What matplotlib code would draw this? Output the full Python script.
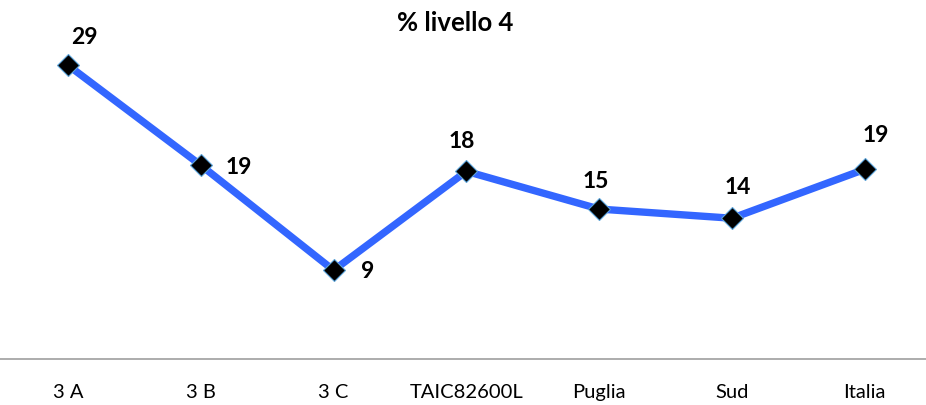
import matplotlib
matplotlib.use("Agg")
import matplotlib.pyplot as plt

categories = ["3 A", "3 B", "3 C", "TAIC82600L", "Puglia", "Sud", "Italia"]
values = [28.8, 19.0, 8.7, 18.4, 14.7, 13.8, 18.6]
title = "% livello 4"

# label offsets in pixels (dx, dy upward)
label_offsets = [(16, 29), (38, -1), (34, 0), (-5, 31), (-3, 29), (6, 32), (11, 35)]

plt.rcParams['font.family'] = ['Lato', 'DejaVu Sans']

fig = plt.figure(figsize=(9.26, 4.06), dpi=100)
ax = fig.add_axes([0.0, 1 - 360 / 406, 1.0, 357 / 406])

x = list(range(len(categories)))
ax.plot(x, values, color="#3366FF", linewidth=5.3, solid_capstyle="butt",
        marker="D", markersize=11.5, markerfacecolor="black",
        markeredgecolor="#5BA3D9", markeredgewidth=0.8, zorder=3)

for xi, v, (dx, dy) in zip(x, values, label_offsets):
    ax.annotate(f"{v:.0f}", (xi, v), xytext=(dx, dy), textcoords="offset pixels",
                ha="center", va="center", fontsize=16.5, fontweight="bold", color="black")

ax.set_xlim(-0.512, 6.461)
ax.set_ylim(0, 35)
ax.set_xticks(x)
ax.set_xticklabels(categories, fontsize=14.5)
ax.tick_params(axis="x", length=0, pad=17)
ax.set_yticks([])
for s in ["top", "right", "left"]:
    ax.spines[s].set_visible(False)
ax.spines["bottom"].set_color("#A6A6A6")
ax.spines["bottom"].set_linewidth(1.3)

fig.text(455 / 926, 1 - 23 / 406, title, ha="center", va="center",
         fontsize=18.5, fontweight="bold")

fig.savefig("out.png", dpi=100)
